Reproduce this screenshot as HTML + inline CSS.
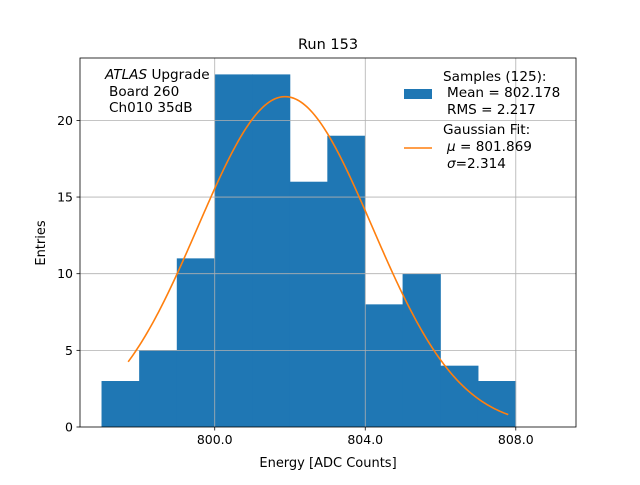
<!DOCTYPE html>
<html><head><meta charset="utf-8"><style>body{margin:0;background:#fff}svg{font-family:"DejaVu Sans","Liberation Sans",sans-serif}</style></head>
<body>
<svg id="c" width="640" height="480" xmlns="http://www.w3.org/2000/svg"></svg>
<script>
const binEdges=[797,798,799,800,801,802,803,804,805,806,807,808];
const counts=[3,5,11,23,23,16,19,8,10,4,3];
const xTicks=[800,804,808];
const xTickLabels=["800.0","804.0","808.0"];
const yTicks=[0,5,10,15,20];
const fitMu=[801.869];
const fitSigma=[2.314];
const fitN=[125];
const fitRange=[797.7,807.8];
const L=80,R=576,T=58,B=427,x0=796.42,x1=809.6,y1=24.07;
const X=v=>L+(v-x0)/(x1-x0)*(R-L);
const Y=v=>B-v/y1*(B-T);
const svg=document.getElementById('c');const NS='http://www.w3.org/2000/svg';
function mk(t,a,txt){const e=document.createElementNS(NS,t);for(const k in a)e.setAttribute(k,a[k]);if(txt!==undefined)e.textContent=txt;svg.appendChild(e);return e;}
for(let i=0;i<counts.length;i++){const e=mk('rect',{x:X(binEdges[i])-0.3,y:Y(counts[i]),width:X(binEdges[i+1])-X(binEdges[i])+0.6,height:B-Y(counts[i]),fill:'#1f77b4'});

}
xTicks.forEach((t,i)=>{const g=mk('line',{x1:X(t),x2:X(t),y1:T,y2:B,stroke:'#b0b0b0','stroke-width':0.8});


mk('line',{x1:X(t),x2:X(t),y1:B,y2:B+3.5,stroke:'#000','stroke-width':0.8});
const l=mk('text',{x:X(t),y:B+17,'font-size':12.5,'text-anchor':'middle'},xTickLabels[i]);

});
yTicks.forEach(t=>{if(t>0){const g=mk('line',{x1:L,x2:R,y1:Y(t),y2:Y(t),stroke:'#b0b0b0','stroke-width':0.8});

}
mk('line',{x1:L-3.5,x2:L,y1:Y(t),y2:Y(t),stroke:'#000','stroke-width':0.8});
const l=mk('text',{x:L-7,y:Y(t)+4.5,'font-size':12.5,'text-anchor':'end'},String(t));

});
const amp=fitN[0]/(Math.sqrt(2*Math.PI)*fitSigma[0]);let d='';
for(let k=0;k<=200;k++){const v=fitRange[0]+(fitRange[1]-fitRange[0])*k/200;const f=amp*Math.exp(-0.5*((v-fitMu[0])/fitSigma[0])**2);d+=(k?'L':'M')+X(v).toFixed(2)+','+Y(f).toFixed(2);}
const p=mk('path',{d:d,fill:'none',stroke:'#ff7f0e','stroke-width':1.6});


mk('rect',{x:L,y:T,width:R-L,height:B-T,fill:'none',stroke:'#000','stroke-width':0.8});
</script>
<svg width="640" height="480" style="position:absolute;left:0;top:0" xmlns="http://www.w3.org/2000/svg" font-family="DejaVu Sans, Liberation Sans, sans-serif">
<text x="328" y="49" font-size="14.5" text-anchor="middle">Run 153</text>
<text x="328" y="467" font-size="13" text-anchor="middle">Energy [ADC Counts]</text>
<text x="45" y="243" font-size="13" text-anchor="middle" transform="rotate(-90 45 243)">Entries</text>
<g font-size="13.6">
<text x="105" y="79"><tspan font-style="italic">ATLAS</tspan> Upgrade</text>
<text x="109" y="96">Board 260</text>
<text x="109" y="112">Ch010 35dB</text>
</g>
<g font-size="13.6">
<rect x="404" y="89" width="28" height="10" fill="#1f77b4"/>
<text x="443" y="81">Samples (125):</text>
<text x="447" y="97">Mean = 802.178</text>
<text x="447" y="114">RMS = 2.217</text>
<line x1="404" x2="432" y1="148" y2="148" stroke="#ff7f0e" stroke-width="1.6"/>
<text x="443" y="134">Gaussian Fit:</text>
<text x="447" y="151"><tspan font-style="italic">μ</tspan> = 801.869</text>
<text x="447" y="168"><tspan font-style="italic">σ</tspan>=2.314</text>
</g>
</svg>
</body></html>
